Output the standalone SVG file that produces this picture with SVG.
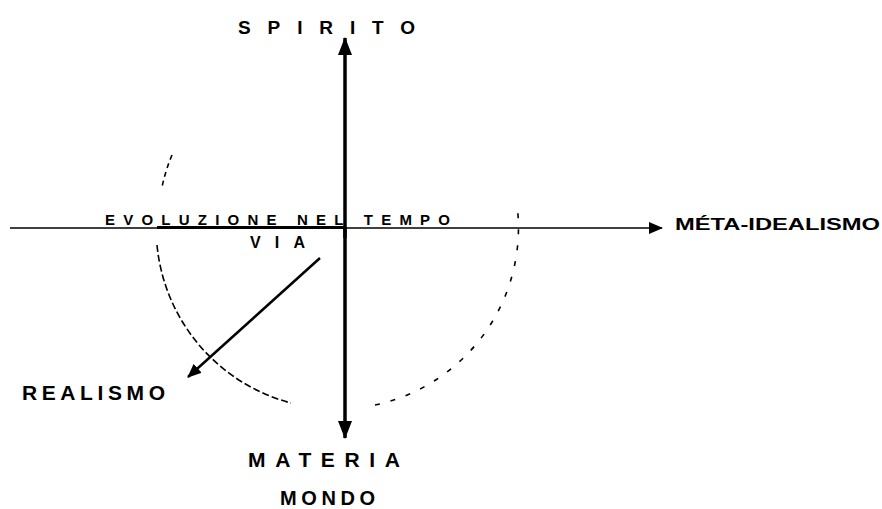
<svg xmlns="http://www.w3.org/2000/svg" width="882" height="509" viewBox="0 0 882 509">
<style>
.lbl{font-family:"Liberation Sans",Arial,sans-serif;font-weight:bold;fill:#000}
.ax{stroke:#000;fill:none}
.arc{stroke:#000;fill:none;stroke-width:1.6}
</style>
<defs>
<marker id="ah" viewBox="0 0 18 14" refX="17" refY="7" markerWidth="18" markerHeight="14" markerUnits="userSpaceOnUse" orient="auto">
<path d="M0,0 L18,7 L0,14 Z" fill="#000"/>
</marker>
<marker id="ahs" viewBox="0 0 14 12" refX="13" refY="6" markerWidth="14" markerHeight="12" markerUnits="userSpaceOnUse" orient="auto">
<path d="M0,0 L14,6 L0,12 Z" fill="#000"/>
</marker>
</defs>
<rect width="882" height="509" fill="#fff"/>
<g id="connectors">
<line class="ax" x1="10" y1="228" x2="662" y2="228" stroke-width="1.6" marker-end="url(#ahs)"/>
<line class="ax" x1="157" y1="227.5" x2="345" y2="227.5" stroke-width="3"/>
<line class="ax" x1="345" y1="238" x2="345" y2="38" stroke-width="3.5" marker-end="url(#ah)"/>
<line class="ax" x1="345" y1="228" x2="345" y2="438" stroke-width="3.5" marker-end="url(#ah)"/>
<line class="ax" x1="320" y1="258" x2="188" y2="377" stroke-width="2.5" marker-end="url(#ahs)"/>
</g>
<g id="circle">
<path class="arc" d="M172,155 A181,181 0 0 0 162,187" stroke-dasharray="5 4"/>
<path class="arc" d="M157,245 A181,181 0 0 0 291,403" stroke-dasharray="7 3"/>
<path class="arc" d="M375,405 A181,181 0 0 0 517,205" stroke-dasharray="5 11"/>
</g>
<g id="spirito"><text class="lbl" x="238" y="34" font-size="19" textLength="177" lengthAdjust="spacing">SPIRITO</text></g>
<g id="evoluzione"><text class="lbl" x="105" y="225" font-size="15" textLength="345" lengthAdjust="spacing">EVOLUZIONE NEL TEMPO</text></g>
<g id="via"><text class="lbl" x="250" y="248" font-size="16" textLength="55" lengthAdjust="spacing">VIA</text></g>
<g id="meta"><text class="lbl" x="675" y="230" font-size="17" textLength="205" lengthAdjust="spacingAndGlyphs">MÉTA-IDEALISMO</text></g>
<g id="realismo"><text class="lbl" x="22" y="400" font-size="21" textLength="143" lengthAdjust="spacing">REALISMO</text></g>
<g id="materia"><text class="lbl" x="248" y="467" font-size="21" textLength="152" lengthAdjust="spacing">MATERIA</text></g>
<g id="mondo"><text class="lbl" x="280" y="505" font-size="20" textLength="95" lengthAdjust="spacing">MONDO</text></g>
</svg>
